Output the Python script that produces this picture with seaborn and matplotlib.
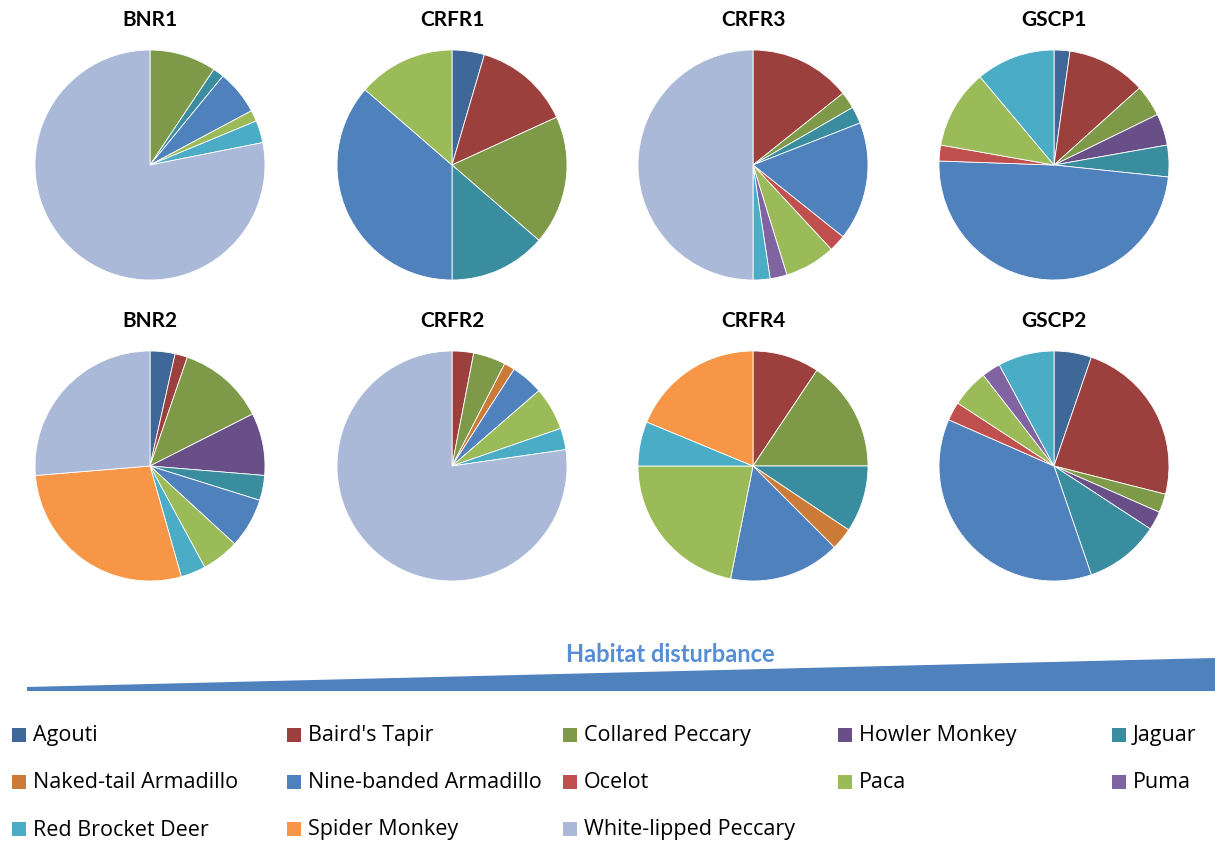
import matplotlib
matplotlib.use("Agg")
import matplotlib.pyplot as plt
from matplotlib.patches import Polygon, Rectangle
import seaborn as sns

sns.set_style("white")
plt.rcParams["font.family"] = ["Lato", "DejaVu Sans"]

# Species (legend order) and their colours
species = ["Agouti", "Baird's Tapir", "Collared Peccary", "Howler Monkey", "Jaguar",
           "Naked-tail Armadillo", "Nine-banded Armadillo", "Ocelot", "Paca", "Puma",
           "Red Brocket Deer", "Spider Monkey", "White-lipped Peccary"]
species_colors = ["#3F6899", "#9C403D", "#7E9A48", "#684F87", "#3A8C9F",
                  "#CB7A38", "#4F81BD", "#C0504D", "#9BBB59", "#8064A2",
                  "#4BACC6", "#F79646", "#AAB9D7"]

# Detection counts per site, in species order
sites = ["BNR1", "CRFR1", "CRFR3", "GSCP1", "BNR2", "CRFR2", "CRFR4", "GSCP2"]
bnr1  = [0, 0, 6, 0, 1, 0, 4, 0, 1, 0, 2, 0, 50]
crfr1 = [1, 3, 4, 0, 3, 0, 8, 0, 3, 0, 0, 0, 0]
crfr3 = [0, 6, 1, 0, 1, 0, 7, 1, 3, 1, 1, 0, 21]
gscp1 = [1, 5, 2, 2, 2, 0, 22, 1, 5, 0, 5, 0, 0]
bnr2  = [2, 1, 7, 5, 2, 0, 4, 0, 3, 0, 2, 16, 15]
crfr2 = [0, 2, 3, 0, 0, 1, 3, 0, 4, 0, 2, 0, 51]
crfr4 = [0, 3, 5, 0, 3, 1, 5, 0, 7, 0, 2, 6, 0]
gscp2 = [2, 9, 1, 1, 4, 0, 14, 1, 2, 1, 3, 0, 0]
site_counts = [bnr1, crfr1, crfr3, gscp1, bnr2, crfr2, crfr4, gscp2]

W, H = 1215, 841
palette = sns.color_palette(species_colors)

fig = plt.figure(figsize=(W / 100, H / 100), dpi=100)
fig.patch.set_facecolor("white")


def fx(px):
    return px / W


def fy(py):
    return 1 - py / H


centers_x = [150, 452, 753, 1054]
centers_y = [165, 466]
R = 115
pad = 6

for k, (name, counts) in enumerate(zip(sites, site_counts)):
    cx = centers_x[k % 4]
    cy = centers_y[k // 4]
    ax = fig.add_axes([fx(cx - R - pad), fy(cy + R + pad),
                       (2 * (R + pad)) / W, (2 * (R + pad)) / H])
    vals = [v for v in counts if v > 0]
    cols = [palette[i] for i, v in enumerate(counts) if v > 0]
    ax.pie(vals, colors=cols, startangle=90, counterclock=False, radius=1,
           wedgeprops=dict(edgecolor="white", linewidth=0.6))
    lim = (R + pad) / R
    ax.set_xlim(-lim, lim)
    ax.set_ylim(-lim, lim)
    ax.set_aspect("equal")
    ax.axis("off")
    fig.text(fx(cx), fy(cy - 145), name, ha="center", va="center",
             fontsize=15, fontweight="bold", color="black")

# Habitat disturbance gradient wedge
wedge = Polygon([(fx(27), fy(687)), (fx(1215), fy(658)),
                 (fx(1215), fy(691)), (fx(27), fy(691))],
                closed=True, transform=fig.transFigure,
                facecolor="#4F81BD", edgecolor="none")
fig.patches.append(wedge)
fig.text(fx(670), fy(655), "Habitat disturbance", ha="center", va="center",
         fontsize=17, fontweight="bold", color="#558ED5")

# Legend grid: 5 columns, 3 rows
col_x = [12, 287, 563, 838, 1112]
row_y = [735, 782, 829]
box = 14
for i, (label, color) in enumerate(zip(species, palette)):
    x = col_x[i % 5]
    y = row_y[i // 5]
    fig.patches.append(Rectangle((fx(x), fy(y + box / 2)), box / W, box / H,
                                 transform=fig.transFigure, facecolor=color,
                                 edgecolor="none"))
    fig.text(fx(x + 21), fy(y + 1), label, ha="left", va="center",
             fontsize=15.5, color="black", family=["Open Sans", "DejaVu Sans"])

fig.savefig("out.png", dpi=100, facecolor="white")
